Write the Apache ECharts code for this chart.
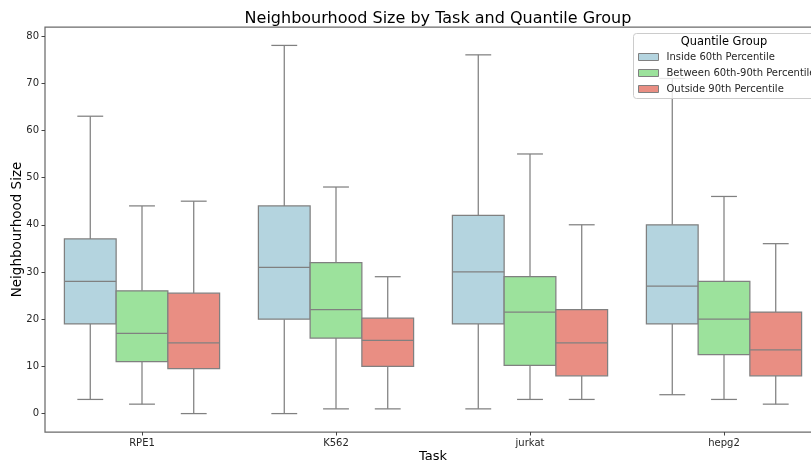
<!DOCTYPE html>
<html>
<head>
<meta charset="utf-8">
<script src="https://cdn.jsdelivr.net/npm/echarts@6/dist/echarts.min.js"></script>
<style>
html,body{margin:0;padding:0;background:#fff;}
#main{width:811px;height:464px;}
</style>
</head>
<body>
<div id="main"></div>
<script>
// ---- data ----
var tasks = ['RPE1', 'K562', 'jurkat', 'hepg2'];
var groups = ['Inside 60th Percentile', 'Between 60th-90th Percentile', 'Outside 90th Percentile'];
// each row: [lowWhisker, Q1, median, Q3, highWhisker] per task
var inside60 = [
  [3, 19, 28, 37, 63],
  [0, 20, 31, 44, 78],
  [1, 19, 30, 42, 76],
  [4, 19, 27, 40, 71]
];
var between60_90 = [
  [2, 11, 17, 26, 44],
  [1, 16, 22, 32, 48],
  [3, 10.2, 21.5, 29, 55],
  [3, 12.5, 20, 28, 46]
];
var outside90 = [
  [0, 9.5, 15, 25.5, 45],
  [1, 10, 15.5, 20.2, 29],
  [3, 8, 15, 22, 40],
  [2, 8, 13.5, 21.5, 36]
];
var yTicks = [0, 10, 20, 30, 40, 50, 60, 70, 80];
var colors = ['#b4d4df', '#9ce29c', '#e98e83'];
var seriesData = [inside60, between60_90, outside90];

var lineColor = '#808080';

function makeRender(k) {
  return function (params, api) {
    var xi = api.value(0);
    var band = api.size([1, 0])[0];
    var bw = band * 0.8 / 3;
    var cx = api.coord([xi, 0])[0] + (k - 1) * bw;
    var yLo = api.coord([xi, api.value(1)])[1];
    var yQ1 = api.coord([xi, api.value(2)])[1];
    var yMed = api.coord([xi, api.value(3)])[1];
    var yQ3 = api.coord([xi, api.value(4)])[1];
    var yHi = api.coord([xi, api.value(5)])[1];
    var half = bw / 2, cap = bw / 4;
    var ls = {stroke: lineColor, lineWidth: 1.25};
    return {
      type: 'group',
      children: [
        {type: 'line', shape: {x1: cx, y1: yQ1, x2: cx, y2: yLo}, style: ls},
        {type: 'line', shape: {x1: cx, y1: yQ3, x2: cx, y2: yHi}, style: ls},
        {type: 'line', shape: {x1: cx - cap, y1: yLo, x2: cx + cap, y2: yLo}, style: ls},
        {type: 'line', shape: {x1: cx - cap, y1: yHi, x2: cx + cap, y2: yHi}, style: ls},
        {type: 'rect', shape: {x: cx - half, y: yQ3, width: bw, height: yQ1 - yQ3},
          style: {fill: colors[k], stroke: lineColor, lineWidth: 1.25}},
        {type: 'line', shape: {x1: cx - half, y1: yMed, x2: cx + half, y2: yMed}, style: ls}
      ]
    };
  };
}

var series = groups.map(function (g, k) {
  return {
    type: 'custom',
    name: g,
    renderItem: makeRender(k),
    itemStyle: {color: colors[k]},
    encode: {x: 0, y: [1, 2, 3, 4, 5]},
    data: seriesData[k].map(function (r, i) { return [i].concat(r); }),
    z: 2,
    silent: true
  };
});

var chart = echarts.init(document.getElementById('main'), null, {renderer: 'canvas'});
chart.setOption({
  animation: false,
  backgroundColor: '#ffffff',
  title: {
    text: 'Neighbourhood Size by Task and Quantile Group',
    left: 433, top: 6, textAlign: 'center',
    textStyle: {fontFamily: 'DejaVu Sans', fontSize: 16, fontWeight: 'normal', color: '#000'}
  },
  grid: {left: 45, top: 27, right: -10, bottom: 32, containLabel: false, outerBoundsMode: 'none',
    show: true, borderColor: '#6b6b6b', borderWidth: 1.25, backgroundColor: 'transparent'},
  xAxis: {
    type: 'category',
    data: tasks,
    name: 'Task',
    nameLocation: 'middle',
    nameGap: 18,
    nameMoveOverlap: false,
    nameTextStyle: {fontFamily: 'DejaVu Sans', fontSize: 13, color: '#000'},
    axisLine: {show: false, onZero: false},
    axisTick: {show: true, alignWithLabel: true, length: 3.5, lineStyle: {color: '#444'}},
    axisLabel: {fontFamily: 'DejaVu Sans', fontSize: 10, color: '#262626', margin: 6},
    splitLine: {show: false}
  },
  yAxis: {
    type: 'value',
    min: -3.9, max: 81.9,
    name: 'Neighbourhood Size',
    nameLocation: 'middle',
    nameRotate: 90,
    nameGap: 21,
    nameMoveOverlap: false,
    nameTextStyle: {fontFamily: 'DejaVu Sans', fontSize: 13.5, color: '#000'},
    axisLine: {show: false, onZero: false},
    axisTick: {show: true, length: 3.5, lineStyle: {color: '#444'}, customValues: yTicks},
    axisLabel: {fontFamily: 'DejaVu Sans', fontSize: 10, color: '#262626', margin: 6, customValues: yTicks},
    splitLine: {show: false}
  },
  legend: {
    orient: 'vertical',
    left: 638, top: 50,
    padding: 0,
    itemWidth: 20, itemHeight: 7, itemGap: 2,
    icon: 'rect',
    z: 10,
    textStyle: {fontFamily: 'DejaVu Sans', fontSize: 10, color: '#262626', lineHeight: 14, padding: [0, 0, 0, 3]},
    data: groups.map(function (g, k) {
      return {name: g, itemStyle: {color: colors[k], borderColor: lineColor, borderWidth: 1}};
    }),
    selectedMode: false
  },
  graphic: [
    {type: 'rect', z: 8, shape: {x: 633.5, y: 33.5, width: 190, height: 65, r: 3},
      style: {fill: 'rgba(255,255,255,0.8)', stroke: '#cccccc', lineWidth: 1}},
    {type: 'text', z: 9, x: 724, y: 42,
      style: {text: 'Quantile Group', fontFamily: 'DejaVu Sans', fontSize: 11.4, fill: '#000', align: 'center', verticalAlign: 'middle'}}
  ],
  series: series
});
</script>
</body>
</html>
